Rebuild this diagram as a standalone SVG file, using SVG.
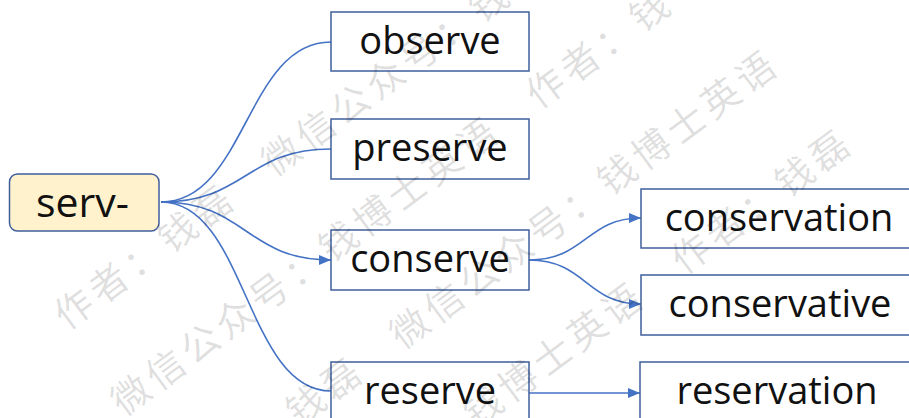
<svg xmlns="http://www.w3.org/2000/svg" width="909" height="418" viewBox="0 0 909 418">
<style>
.box{fill:#ffffff;stroke:#3f5f9c;stroke-width:1.5}
.root{fill:#fff2cc;stroke:#3f5f9c;stroke-width:1.5}
.lbl{font-family:"Open Sans","Liberation Sans",sans-serif;font-size:38px;fill:#111111;text-anchor:middle}
.edge{fill:none;stroke:#4472c4;stroke-width:1.6}
.wm{font-family:"Noto Sans CJK SC","Noto Sans",sans-serif;font-size:38px;letter-spacing:5px;fill:#000000;fill-opacity:0.13;dominant-baseline:central}
</style>
<defs>
<marker id="arr" markerUnits="userSpaceOnUse" markerWidth="12" markerHeight="10" refX="12" refY="5" orient="auto">
<path d="M0,0 L12,5 L0,10 z" fill="#4472c4"/>
</marker>
</defs>
<rect width="909" height="418" fill="#ffffff"/>
<g id="connectors">
<path class="edge" d="M161,202 C246,202 246,42 331,42"/>
<path class="edge" d="M161,202 C246,202 246,149 331,149"/>
<path class="edge" d="M161,202 C246,202 246,260 331,260" marker-end="url(#arr)"/>
<path class="edge" d="M161,202 C246,202 246,391 331,391"/>
<path class="edge" d="M529,260 C586,260 586,218 641,218" marker-end="url(#arr)"/>
<path class="edge" d="M529,260 C586,260 586,304 641,304" marker-end="url(#arr)"/>
<path class="edge" d="M529,393 L640,393" marker-end="url(#arr)"/>
</g>
<g id="node-serv">
<rect class="root" x="9.5" y="174" width="149.5" height="57" rx="8"/>
<text class="lbl" x="82.5" y="217" style="font-size:41px">serv-</text>
</g>
<g id="node-observe">
<rect class="box" x="331" y="12" width="198" height="59"/>
<text class="lbl" x="430" y="54">observe</text>
</g>
<g id="node-preserve">
<rect class="box" x="331" y="119" width="198" height="60"/>
<text class="lbl" x="430" y="161">preserve</text>
</g>
<g id="node-conserve">
<rect class="box" x="331" y="230" width="198" height="60"/>
<text class="lbl" x="430" y="272">conserve</text>
</g>
<g id="node-reserve">
<rect class="box" x="331" y="362" width="198" height="62"/>
<text class="lbl" x="430" y="404">reserve</text>
</g>
<g id="node-conservation">
<rect class="box" x="641" y="189" width="272" height="59"/>
<text class="lbl" x="779" y="231">conservation</text>
</g>
<g id="node-conservative">
<rect class="box" x="641" y="275" width="272" height="60"/>
<text class="lbl" x="780" y="317">conservative</text>
</g>
<g id="node-reservation">
<rect class="box" x="640" y="362" width="273" height="62"/>
<text class="lbl" x="777" y="404">reservation</text>
</g>
<g id="watermark">
<text class="wm" transform="translate(57,318) rotate(-36.5)">作者：钱磊　微信公众号：钱</text>
<text class="wm" transform="translate(114,404) rotate(-36.5)">微信公众号：钱博士英语　作者：钱</text>
<text class="wm" transform="translate(289,414) rotate(-36.5)">钱磊　微信公众号：钱博士英语</text>
<text class="wm" transform="translate(466.5,416) rotate(-36.5)">钱博士英语　作者：钱磊</text>
</g>
</svg>
